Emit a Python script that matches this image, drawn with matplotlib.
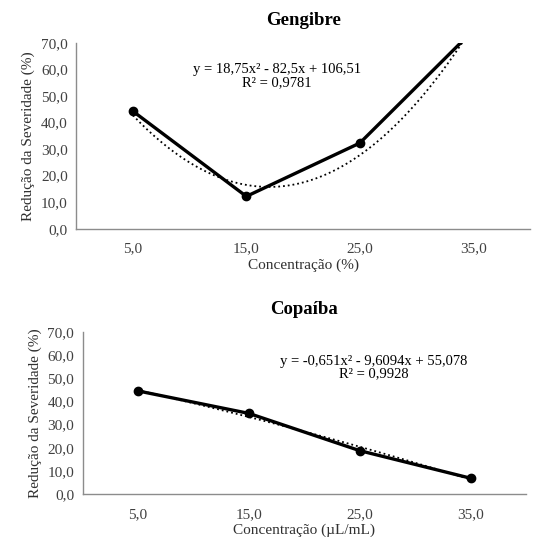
import matplotlib
matplotlib.use("Agg")
import matplotlib.pyplot as plt
import numpy as np
from matplotlib.ticker import FuncFormatter

plt.rcParams["font.family"] = ["Liberation Serif", "DejaVu Serif"]

concentracoes = ["5,0", "15,0", "25,0", "35,0"]

# observed severity reduction (%)
gengibre = [44.3, 12.2, 32.3, 74.8]
copaiba = [44.5, 34.8, 18.7, 6.8]

# polynomial trend coefficients (a, b, c) for y = a*x^2 + b*x + c, x = category index
coef_gengibre = [18.75, -82.5, 106.51]
coef_copaiba = [-0.651, -9.6094, 55.078]

eq_gengibre = "y = 18,75x² - 82,5x + 106,51\nR² = 0,9781"
eq_copaiba = "y = -0,651x² - 9,6094x + 55,078\nR² = 0,9928"

y_ticks = [0, 10, 20, 30, 40, 50, 60, 70]


def comma_fmt(v, pos):
    return f"{v:.1f}".replace(".", ",")


def draw_panel(ax, values, coef, eq_text, eq_pos, title, xlabel):
    x = np.arange(1, len(values) + 1)
    xs = np.linspace(1, len(values), 200)
    trend = np.polyval(coef, xs)

    ax.plot(xs, trend, color="black", linestyle=":", linewidth=1.3, clip_on=True)
    ax.plot(x, values, color="black", linewidth=2.4, marker="o",
            markersize=6, clip_on=True)

    ax.set_xlim(0.5, len(values) + 0.5)
    ax.set_ylim(0, 70)
    ax.set_xticks(x)
    ax.set_xticklabels(concentracoes)
    ax.set_yticks(y_ticks)
    ax.yaxis.set_major_formatter(FuncFormatter(comma_fmt))
    ax.tick_params(length=0, labelsize=11, colors="#404040", pad=6)
    ax.tick_params(axis="x", pad=10)

    for side in ["top", "right"]:
        ax.spines[side].set_visible(False)
    for side in ["left", "bottom"]:
        ax.spines[side].set_color("#8c8c8c")
        ax.spines[side].set_linewidth(1.0)

    ax.set_title(title, fontsize=13.5, fontweight="bold", pad=13)
    ax.set_xlabel(xlabel, fontsize=11, color="#303030", labelpad=2)
    ax.set_ylabel("Redução da Severidade (%)", fontsize=11, color="#303030", labelpad=4)
    ax.text(eq_pos[0], eq_pos[1], eq_text, transform=ax.transAxes,
            ha="center", va="center", fontsize=10.5, linespacing=1.0)


fig = plt.figure(figsize=(5.36, 5.37), dpi=100)
ax1 = fig.add_axes([0.142, 0.574, 0.847, 0.346])
ax2 = fig.add_axes([0.154, 0.080, 0.828, 0.302])

draw_panel(ax1, gengibre, coef_gengibre, eq_gengibre, (0.443, 0.82),
           "Gengibre", "Concentração (%)")
draw_panel(ax2, copaiba, coef_copaiba, eq_copaiba, (0.657, 0.78),
           "Copaíba", "Concentração (µL/mL)")

fig.savefig("out.png", dpi=100, facecolor="white")
